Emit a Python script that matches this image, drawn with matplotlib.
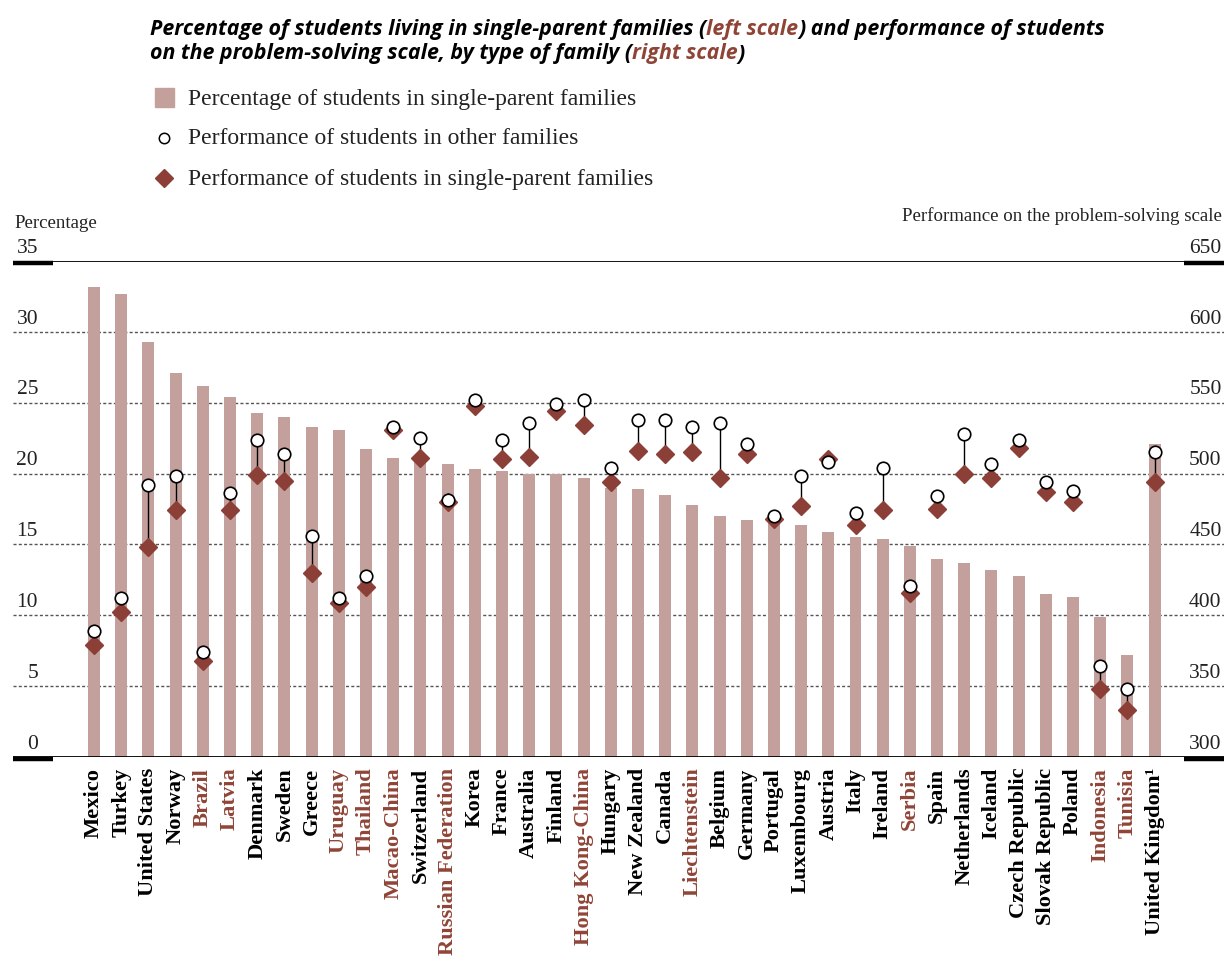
import matplotlib
matplotlib.use("Agg")
import matplotlib.pyplot as plt
from matplotlib.lines import Line2D
from matplotlib.patches import Rectangle

# data
countries = ["Mexico", "Turkey", "United States", "Norway", "Brazil", "Latvia",
             "Denmark", "Sweden", "Greece", "Uruguay", "Thailand", "Macao-China",
             "Switzerland", "Russian Federation", "Korea", "France", "Australia",
             "Finland", "Hong Kong-China", "Hungary", "New Zealand", "Canada",
             "Liechtenstein", "Belgium", "Germany", "Portugal", "Luxembourg",
             "Austria", "Italy", "Ireland", "Serbia", "Spain", "Netherlands",
             "Iceland", "Czech Republic", "Slovak Republic", "Poland", "Indonesia",
             "Tunisia", "United Kingdom\u00b9"]
partners = ["Brazil", "Latvia", "Uruguay", "Thailand", "Macao-China",
            "Russian Federation", "Hong Kong-China", "Liechtenstein", "Serbia",
            "Indonesia", "Tunisia"]
pct_single = [33.2, 32.7, 29.3, 27.1, 26.2, 25.4, 24.3, 24.0, 23.3, 23.1, 21.7, 21.1,
              20.8, 20.7, 20.3, 20.2, 20.0, 20.0, 19.7, 19.0, 18.9, 18.5, 17.8, 17.0,
              16.7, 16.5, 16.4, 15.9, 15.5, 15.4, 14.9, 14.0, 13.7, 13.2, 12.8, 11.5,
              11.3, 9.9, 7.2, 22.1]
score_other = [389, 412, 492, 498, 374, 486, 524, 514, 456, 412, 428, 533, 525, 481,
               552, 524, 536, 549, 552, 504, 538, 538, 533, 536, 521, 470, 498, 508,
               472, 504, 421, 484, 528, 507, 524, 494, 488, 364, 348, 515]
score_single = [379, 402, 448, 474, 368, 474, 499, 495, 430, 409, 420, 531, 511, 480,
                548, 510, 512, 544, 534, 494, 516, 514, 515, 497, 514, 468, 477, 510,
                464, 474, 416, 475, 500, 497, 518, 487, 480, 348, 333, 494]

left_ticks = [0, 5, 10, 15, 20, 25, 30, 35]
right_ticks = [300, 350, 400, 450, 500, 550, 600, 650]

bar_col = "#c4a09c"
dia_col = "#8b3f37"
brown = "#8f4436"
serif = "Liberation Serif"

W, H = 1225, 962
fig = plt.figure(figsize=(W / 100, H / 100), dpi=100)

x0, x1 = 13, 1224
ytop, ybot = 262, 758
ax = fig.add_axes([x0 / W, 1 - ybot / H, (x1 - x0) / W, (ybot - ytop) / H])
ax.set_xlim(-2.98, 41.55)
ax.set_ylim(0, 35)
for s in ax.spines.values():
    s.set_visible(False)

xs = list(range(len(countries)))
ax.bar(xs, pct_single, width=0.44, color=bar_col, zorder=2)

# dashed gridlines and frame lines
for v in left_ticks[1:-1]:
    ax.axhline(v, color="#555555", lw=1.0, ls=(0, (2.2, 1.6)), zorder=1)
ax.axhline(35, color="black", lw=1.3, zorder=3)
ax.axhline(0, color="black", lw=1.3, zorder=3)
tr = ax.get_yaxis_transform()
seg = 40 / (x1 - x0)
for yv in (35 - 0.14, 0 - 0.14):
    ax.plot([0, seg], [yv, yv], color="black", lw=3.2, transform=tr,
            solid_capstyle="butt", zorder=3, clip_on=False)
    ax.plot([1 - seg, 1], [yv, yv], color="black", lw=3.2, transform=tr,
            solid_capstyle="butt", zorder=3, clip_on=False)

# tick labels sitting above the lines
ax.set_yticks([])
for v, r in zip(left_ticks, right_ticks):
    ax.text(25 / (x1 - x0), v + 0.3, str(v), transform=tr, ha="right", va="bottom",
            family=serif, fontsize=15.5, color="#222222")
    ax.text(0.998, v + 0.3, str(r), transform=tr, ha="right", va="bottom",
            family=serif, fontsize=15.5, color="#222222")

ax.set_xticks(xs)
ax.set_xticklabels(countries, rotation=90, family=serif, fontweight="bold",
                   fontsize=16.2, va="top", ha="center")
for lab in ax.get_xticklabels():
    if lab.get_text() in partners:
        lab.set_color(brown)
ax.tick_params(axis="x", length=0, pad=7)

# performance on right scale
ax2 = ax.twinx()
ax2.set_ylim(300, 650)
ax2.set_yticks([])
for s in ax2.spines.values():
    s.set_visible(False)
ax2.vlines(xs, score_single, score_other, color="black", lw=1.0, zorder=3)
ax2.plot(xs, score_single, ls="none", marker="D", ms=9, color=dia_col,
         mec=dia_col, zorder=4)
ax2.plot(xs, score_other, ls="none", marker="o", ms=9, mfc="white",
         mec="black", mew=1.2, zorder=5)

# overlay for title, legend and axis titles (pixel coords)
ov = fig.add_axes([0, 0, 1, 1])
ov.set_xlim(0, W)
ov.set_ylim(H, 0)
ov.axis("off")


def rainbow(x, y, parts, **kw):
    t = ov.text(x, y, parts[0][0], color=parts[0][1], va="center", ha="left", **kw)
    for s, c in parts[1:]:
        t = ov.annotate(s, xy=(1, 0), xycoords=t, va="bottom", ha="left",
                        color=c, **kw)


tkw = dict(family="Open Sans", fontweight="bold", style="italic", fontsize=15.4)
rainbow(150, 30, [("Percentage of students living in single-parent families (", "black"),
                  ("left scale", brown),
                  (") and performance of students", "black")], **tkw)
rainbow(150, 54, [("on the problem-solving scale, by type of family (", "black"),
                  ("right scale", brown), (")", "black")], **tkw)

ov.add_patch(Rectangle((155, 89), 19, 19, color=bar_col))
ov.add_line(Line2D([164], [139], marker="o", ms=7.5, mfc="white", mec="black", mew=1.1))
ov.add_line(Line2D([164], [179], marker="D", ms=9, color=dia_col))
lkw = dict(family=serif, fontsize=17, va="center", ha="left", color="#222222")
ov.text(188, 99, "Percentage of students in single-parent families", **lkw)
ov.text(188, 139, "Performance of students in other families", **lkw)
ov.text(188, 179, "Performance of students in single-parent families", **lkw)

ov.text(14, 224, "Percentage", family=serif, fontsize=13.6, va="center", ha="left",
        color="#222222")
ov.text(1222, 216, "Performance on the problem-solving scale", family=serif,
        fontsize=13.6, va="center", ha="right", color="#222222")

fig.savefig("out.png", dpi=100)
